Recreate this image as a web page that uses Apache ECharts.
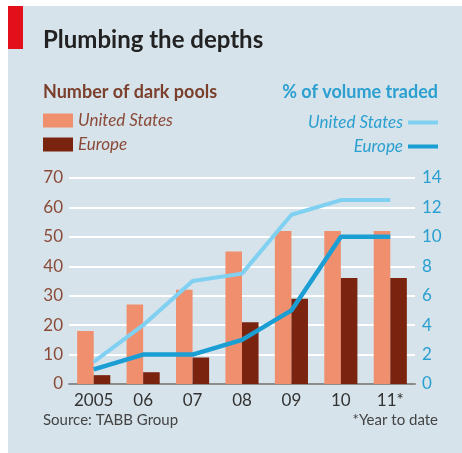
<!DOCTYPE html>
<html>
<head>
<meta charset="utf-8">
<script src="https://cdn.jsdelivr.net/npm/echarts@6/dist/echarts.min.js"></script>
<style>
  html, body { margin: 0; padding: 0; background: #fff; }
  #chart { width: 462px; height: 453px; }
</style>
</head>
<body>
<div id="chart"></div>
<script>
// dark pools chart
var years = ['2005', '06', '07', '08', '09', '10', '11*'];
var poolsUS = [18, 27, 32, 45, 52, 52, 52];
var poolsEurope = [3, 4, 9, 21, 29, 36, 36];
var volumeUS = [1.5, 4, 7, 7.5, 11.5, 12.5, 12.5];
var volumeEurope = [1, 2, 2, 3, 5, 10, 10];

var font = 'Lato';
var labelNames = {
  'US pools': 'United States',
  'Europe pools': 'Europe',
  'US volume': 'United States',
  'Europe volume': 'Europe'
};

var chart = echarts.init(document.getElementById('chart'));

var option = {
  animation: false,
  textStyle: { fontFamily: font },
  graphic: [
    { type: 'rect', shape: { x: 8, y: 6, width: 454, height: 447 }, style: { fill: '#d6e3ea' }, z: -10 },
    { type: 'rect', shape: { x: 8, y: 6, width: 15, height: 43 }, style: { fill: '#e3101b' } },
    { type: 'text', left: 43, top: 28, style: { text: 'Plumbing the depths', font: 'bold 24px ' + font, fill: '#222' } },
    { type: 'text', left: 43, top: 83, style: { text: 'Number of dark pools', font: 'bold 18px ' + font, fill: '#7b3f2c' } },
    { type: 'text', right: 24, top: 83, style: { text: '% of volume traded', font: 'bold 18px ' + font, fill: '#2a9fd0' } },
    { type: 'text', left: 43, top: 413, style: { text: 'Source: TABB Group', font: '15px ' + font, fill: '#444' } },
    { type: 'text', right: 24, top: 413, style: { text: '*Year to date', font: '15px ' + font, fill: '#444' } }
  ],
  legend: [
    {
      data: ['US pools', 'Europe pools'],
      left: 43, top: 112, orient: 'vertical', padding: 0,
      icon: 'rect', itemWidth: 30, itemHeight: 14, itemGap: 7,
      formatter: function (n) { return labelNames[n]; },
      textStyle: { fontSize: 17, fontStyle: 'italic', color: '#8b4a38' }
    },
    {
      data: ['US volume'],
      right: 24, top: 114, align: 'right', padding: 0,
      icon: 'rect', itemWidth: 30, itemHeight: 4,
      formatter: function (n) { return labelNames[n]; },
      textStyle: { fontSize: 17, fontStyle: 'italic', color: '#2a9fd0' }
    },
    {
      data: ['Europe volume'],
      right: 24, top: 138, align: 'right', padding: 0,
      icon: 'rect', itemWidth: 30, itemHeight: 4,
      formatter: function (n) { return labelNames[n]; },
      textStyle: { fontSize: 17, fontStyle: 'italic', color: '#2a9fd0' }
    }
  ],
  grid: { left: 69, right: 47, top: 178, bottom: 69 },
  xAxis: {
    type: 'category',
    data: years,
    axisLine: { lineStyle: { color: '#8c8c8c', width: 2 } },
    axisTick: { show: false },
    axisLabel: { fontSize: 17, color: '#333', margin: 8, interval: 0 }
  },
  yAxis: [
    {
      type: 'value', min: 0, max: 70, interval: 10,
      axisLabel: { fontSize: 17, color: '#8b4a38', margin: 6 },
      splitLine: { lineStyle: { color: '#fff', width: 2 } }
    },
    {
      type: 'value', min: 0, max: 14, interval: 2,
      axisLabel: { fontSize: 17, color: '#2a9fd0', margin: 7 },
      splitLine: { show: false }
    }
  ],
  series: [
    {
      name: 'US pools', type: 'bar', data: poolsUS,
      barGap: '0%', barCategoryGap: '33%',
      itemStyle: { color: '#ef8f6d' }
    },
    {
      name: 'Europe pools', type: 'bar', data: poolsEurope,
      itemStyle: { color: '#7a2410' }
    },
    {
      name: 'US volume', type: 'line', yAxisIndex: 1, data: volumeUS,
      showSymbol: false, symbol: 'none',
      lineStyle: { color: '#80d0f2', width: 4 },
      itemStyle: { color: '#80d0f2' }
    },
    {
      name: 'Europe volume', type: 'line', yAxisIndex: 1, data: volumeEurope,
      showSymbol: false, symbol: 'none',
      lineStyle: { color: '#1a9ed3', width: 4.5 },
      itemStyle: { color: '#1a9ed3' }
    }
  ]
};

chart.setOption(option);
</script>
</body>
</html>
